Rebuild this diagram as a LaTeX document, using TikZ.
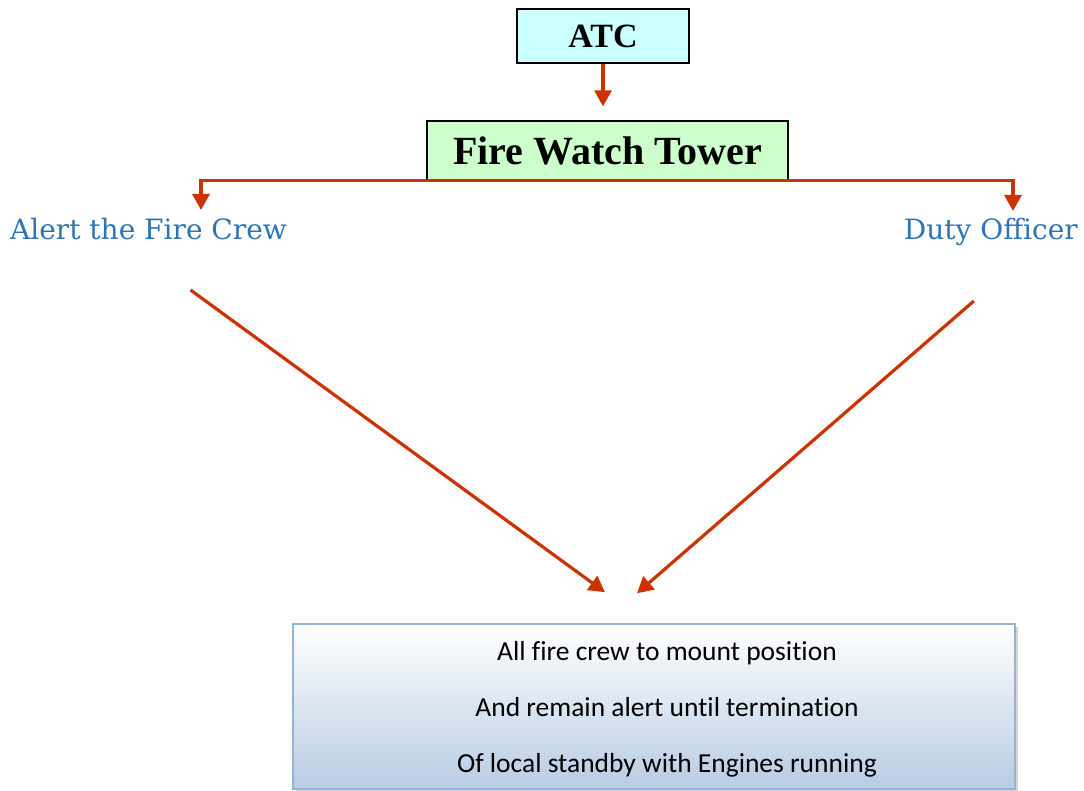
\documentclass[tikz,border=0pt]{standalone}
\usepackage{fontspec}
\setmainfont{Liberation Serif}
\newfontfamily\alertfont{DejaVu Serif}
\newfontfamily\calfont[Ligatures=NoCommon]{Carlito}
\usetikzlibrary{arrows.meta,shadows}
\definecolor{linkred}{RGB}{204,51,0}
\definecolor{atcfill}{RGB}{204,255,255}
\definecolor{towerfill}{RGB}{204,255,204}
\definecolor{alertblue}{RGB}{46,116,181}
\definecolor{boxblue}{RGB}{184,204,228}
\definecolor{boxedge}{RGB}{149,179,215}
\begin{document}
\begin{tikzpicture}[x=1pt,y=-1pt,
	headbox/.style={draw=black,line width=1.3pt,inner sep=0pt},
	link/.style={draw=linkred,line width=3.2pt,-{Triangle[width=17pt,length=16pt]}},
	alerttext/.style={text=alertblue,font=\alertfont\fontsize{28}{32}\selectfont,inner sep=0pt}]
	\useasboundingbox (0,0) rectangle (1084,791);

	\node[headbox,fill=atcfill,minimum width=172pt,minimum height=54pt,
		font=\bfseries\fontsize{34}{40}\selectfont] (atc) at (603,36) {ATC};
	\node[headbox,fill=towerfill,minimum width=361pt,minimum height=59pt,
		font=\bfseries\fontsize{40}{46}\selectfont] (fwt) at (607.5,150.5) {Fire Watch Tower};
	\node[alerttext,anchor=base west] (alert) at (10,240) {Alert the Fire Crew};
	\node[alerttext,anchor=base east] (duty) at (1078,240) {Duty Officer};
	\node[draw=boxedge,line width=1.5pt,top color=white,bottom color=boxblue,
		drop shadow={shadow xshift=2.5pt,shadow yshift=-2.5pt,opacity=0.35},
		minimum width=722pt,minimum height=165pt] (actions) at (654,706.5) {};
	\node[align=center,font=\calfont\fontsize{27.5}{56}\selectfont] (steps) at ([xshift=13pt,yshift=-3pt]actions.center)
		{All fire crew to mount position\\And remain alert until termination\\Of local standby with Engines running};

	\coordinate (ltip) at (201,210);
	\coordinate (rtip) at (1013,211);
	\draw[link] (atc.south) -- ([yshift=14pt]atc.south |- fwt.north);
	\draw[link] (fwt.south) -| (ltip);
	\draw[link] (fwt.south) -| (rtip);
	\draw[link] ([xshift=42pt,yshift=-50pt]alert.base) -- ([xshift=-49pt,yshift=31pt]actions.north);
	\draw[link] ([xshift=-17pt,yshift=-61pt]duty.base) -- ([xshift=-17pt,yshift=30pt]actions.north);
\end{tikzpicture}
\end{document}
